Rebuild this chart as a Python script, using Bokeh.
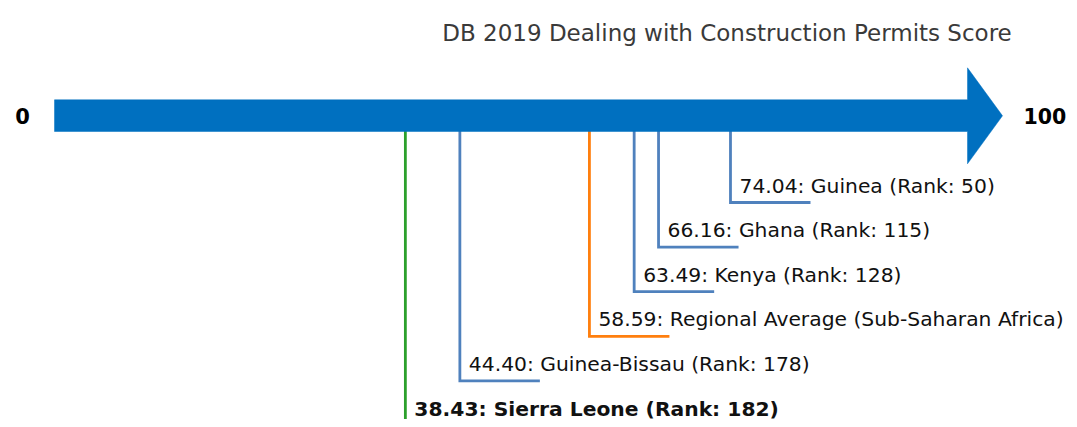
from bokeh.plotting import figure
from bokeh.models import Range1d
from bokeh.embed import file_html
from bokeh.resources import INLINE
from bokeh.core.properties import value

# ---- data ----
names = ["Sierra Leone", "Guinea-Bissau", "Regional Average (Sub-Saharan Africa)", "Kenya", "Ghana", "Guinea"]
scores = [38.43, 44.40, 58.59, 63.49, 66.16, 74.04]
ranks = [182, 178, None, 128, 115, 50]
title_text = "DB 2019 Dealing with Construction Permits Score"
scale_min, scale_max = 0, 100

# ---- styles ----
line_colors = ["#2CA02C", "#4F81BD", "#FF7F0E", "#4F81BD", "#4F81BD", "#4F81BD"]
bold = [True, False, False, False, False, False]
bar_color = "#0070C0"

W, H = 1069, 419
px_per_unit = 9.13
x0 = -54 / px_per_unit
p = figure(width=W, height=H, output_backend="svg", toolbar_location=None,
           x_range=Range1d(x0, x0 + W / px_per_unit), y_range=Range1d(H, 0),
           min_border=0)
p.axis.visible = False
p.grid.visible = False
p.outline_line_color = None
p.background_fill_color = "white"
p.border_fill_color = "white"

# leader lines
bar_y = 115
levels = [425 - 44.6 * i for i in range(len(scores))]
hl = 80 / px_per_unit
xs = [[s, s, s + hl] for s in scores]
ys = [[bar_y, lv, lv] for lv in levels]
p.multi_line(xs, ys, line_color=line_colors, line_width=2.8, line_join="miter")

# arrow
tip = scale_max + 35 / px_per_unit
ax = [scale_min, scale_max, scale_max, tip, scale_max, scale_max, scale_min]
ay = [99.3, 99.3, 67.3, 115.3, 163.3, 131, 131]
p.patch(ax, ay, fill_color=bar_color, line_color=bar_color, line_width=0.5)

# end labels
p.text([scale_min - 32 / px_per_unit], [bar_y], text=[str(scale_min)], text_align="center",
       text_baseline="middle", text_font=value("DejaVu Sans"), text_font_size="21px",
       text_font_style="bold", text_color="black")
p.text([tip + 21 / px_per_unit], [bar_y], text=[str(scale_max)], text_align="left",
       text_baseline="middle", text_font=value("DejaVu Sans"), text_font_size="20.5px",
       text_font_style="bold", text_color="black")

# labels
labels = []
for n, s, r in zip(names, scores, ranks):
    if r is None:
        labels.append(f"{s:.2f}: {n}")
    else:
        labels.append(f"{s:.2f}: {n} (Rank: {r})")
lx = [s + 9 / px_per_unit for s in scores]
ly = [lv - 17 for lv in levels]
for i in range(len(labels)):
    p.text([lx[i]], [ly[i]], text=[labels[i]], text_align="left", text_baseline="middle",
           text_font=value("DejaVu Sans"), text_font_size="20.3px",
           text_font_style="bold" if bold[i] else "normal", text_color="#111111")

# title
p.text([x0 + 726.5 / px_per_unit], [32], text=[title_text],
       text_align="center", text_baseline="middle", text_font=value("DejaVu Sans"),
       text_font_size="23px", text_color="#3a3a3a")

open("out.html", "w").write(file_html(p, INLINE))
